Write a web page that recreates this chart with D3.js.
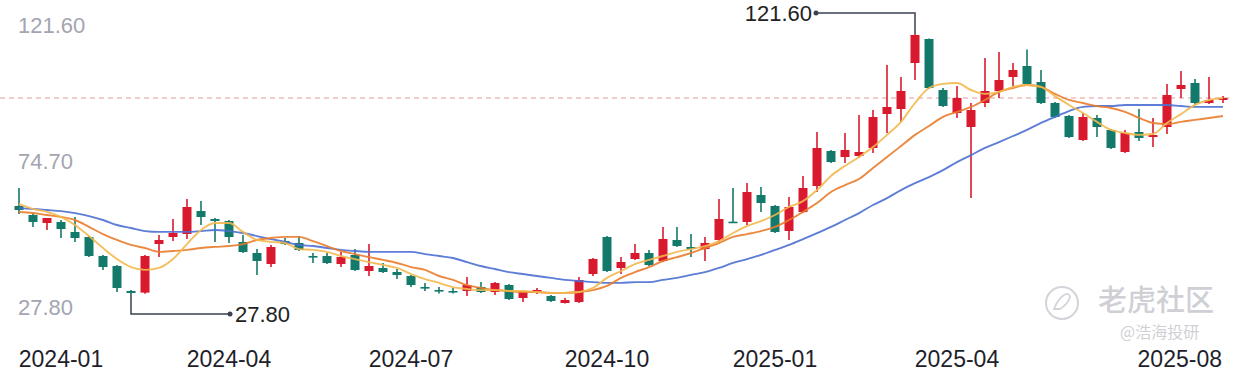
<!DOCTYPE html>
<html><head><meta charset="utf-8">
<script src="https://cdn.jsdelivr.net/npm/d3@7"></script>
<style>body{margin:0;background:#fff}svg{display:block}</style>
</head><body><svg id="c" width="1244" height="378"></svg>
<script>
const dates=["2023-12-15","2023-12-22","2023-12-29","2024-01-05","2024-01-12","2024-01-19","2024-01-26","2024-02-02","2024-02-08","2024-02-23",
"2024-03-01","2024-03-08","2024-03-15","2024-03-22","2024-03-29","2024-04-03","2024-04-12","2024-04-19","2024-04-26","2024-04-30",
"2024-05-10","2024-05-17","2024-05-24","2024-05-31","2024-06-07","2024-06-14","2024-06-21","2024-06-28","2024-07-05","2024-07-12",
"2024-07-19","2024-07-26","2024-08-02","2024-08-09","2024-08-16","2024-08-23","2024-08-30","2024-09-06","2024-09-13","2024-09-20",
"2024-09-27","2024-09-30","2024-10-11","2024-10-18","2024-10-25","2024-11-01","2024-11-08","2024-11-15","2024-11-22","2024-11-29",
"2024-12-06","2024-12-13","2024-12-20","2024-12-27","2025-01-03","2025-01-10","2025-01-17","2025-01-24","2025-01-27","2025-02-07",
"2025-02-14","2025-02-21","2025-02-28","2025-03-07","2025-03-14","2025-03-21","2025-03-28","2025-04-03","2025-04-11","2025-04-18",
"2025-04-25","2025-04-30","2025-05-09","2025-05-16","2025-05-23","2025-05-30","2025-06-06","2025-06-13","2025-06-20","2025-06-27",
"2025-07-04","2025-07-11","2025-07-18","2025-07-25","2025-08-01","2025-08-08","2025-08-15"];
const open=[59.55,56.30,53.41,53.78,50.17,48.36,41.51,37.90,28.88,28.30,
45.84,48.36,49.45,57.74,54.86,54.14,46.56,42.59,38.62,46.92,
46.20,41.51,41.51,38.62,41.87,36.10,37.18,35.74,34.29,30.32,
29.24,28.88,28.88,30.32,28.52,31.05,26.36,28.88,27.08,24.55,
24.91,35.02,48.36,37.18,40.43,42.59,39.71,47.28,44.76,44.03,
47.28,53.90,53.78,63.52,59.55,50.53,57.38,66.76,79.39,77.23,
77.59,80.47,92.74,94.54,111.14,119.80,101.40,93.10,88.05,96.71,
101.04,106.09,110.06,104.28,96.71,92.02,83.36,91.30,86.97,79.03,
86.24,84.44,88.05,101.76,103.92,96.71,97.79];
const high=[66.04,57.02,55.22,54.50,55.58,48.72,41.87,38.26,29.24,41.87,
49.09,54.86,62.07,61.35,55.22,54.50,49.09,44.03,45.48,48.00,
48.72,42.59,42.59,42.95,44.03,45.84,38.98,36.82,34.65,31.77,
30.32,29.96,33.93,32.13,32.13,31.41,28.88,29.96,27.44,26.36,
33.93,40.79,48.72,41.15,45.84,43.67,51.97,51.97,49.45,48.36,
62.07,66.04,67.85,66.40,59.91,62.79,70.37,86.24,79.75,85.88,
92.38,94.18,110.42,106.09,121.60,120.00,102.12,102.84,96.71,112.94,
115.10,111.14,115.99,108.61,97.07,92.38,93.10,92.38,87.33,86.97,
94.54,91.30,103.56,108.25,105.37,106.09,99.23];
const low=[56.66,51.97,50.89,48.00,46.56,41.15,36.46,28.52,27.80,27.90,
41.15,46.92,47.64,52.69,46.56,46.20,42.59,34.65,37.54,45.48,
43.31,38.98,38.62,37.54,36.10,34.29,35.38,33.21,30.32,28.88,
28.00,28.00,27.08,28.16,27.44,25.64,24.91,27.80,24.91,24.40,
24.55,34.29,35.74,35.02,40.07,37.90,39.34,44.76,41.15,39.71,
46.56,53.41,52.69,57.38,49.81,47.28,57.02,64.60,75.06,75.06,
76.87,78.67,85.88,89.85,105.00,101.76,95.26,91.30,62.43,95.26,
98.51,102.84,103.20,96.35,91.30,84.08,83.00,84.44,80.11,78.67,
83.00,80.83,85.52,98.51,95.99,96.35,96.71];
const close=[58.10,53.78,55.22,51.25,48.00,41.51,37.54,29.96,28.16,41.51,
47.28,49.81,59.19,55.58,54.14,48.36,42.95,39.71,44.76,45.84,
43.67,41.15,38.98,41.15,36.46,37.90,35.74,34.65,31.05,29.96,
28.88,28.52,31.05,28.52,31.77,26.00,28.52,29.24,25.28,25.64,
32.85,40.43,36.10,39.34,42.59,38.26,47.64,45.12,44.03,46.20,
54.86,53.60,64.60,60.63,50.17,59.19,66.04,80.47,75.42,79.75,
79.03,91.66,95.26,101.04,121.24,102.12,95.62,98.51,94.18,101.04,
105.00,108.61,103.56,96.71,91.66,84.44,91.66,88.05,80.47,85.88,
84.08,85.16,99.59,103.20,96.71,97.79,98.51];
const ma5=[60.3,58.5,57.4,55.6,52.7,48.7,44.4,40.4,37.5,36.5,
37.2,40.4,45.8,50.9,53.4,53.4,50.2,47.3,46.6,46.2,
44.0,43.7,43.0,41.5,40.4,39.3,38.3,37.2,35.0,33.2,
31.8,30.3,29.6,29.2,29.2,28.9,28.9,28.5,28.2,28.2,
28.5,30.0,33.6,36.1,38.6,40.1,41.5,43.0,44.0,45.1,
46.9,49.8,52.3,54.1,56.3,59.2,61.3,65.3,70.4,74.0,
77.2,80.8,85.2,89.9,96.7,102.1,103.6,103.9,101.4,100.0,
100.7,102.5,103.2,102.5,99.2,96.0,93.1,89.9,87.0,85.9,
85.2,85.5,89.5,92.7,96.0,97.8,98.5];
const ma10=[57.4,57.0,56.3,55.6,54.5,52.0,49.4,47.3,45.5,44.4,
43.0,43.3,43.7,44.4,44.8,45.1,45.8,47.3,48.0,48.4,
48.4,46.9,45.1,43.3,42.2,41.1,40.1,39.0,37.5,36.5,
34.3,32.9,31.0,30.0,29.2,28.9,28.5,28.5,28.2,28.2,
28.5,29.2,30.7,33.6,35.7,37.5,39.7,41.1,42.6,44.4,
46.2,48.4,49.4,50.5,52.0,54.5,57.4,60.6,64.6,67.1,
69.3,73.3,77.2,81.2,85.2,88.4,91.7,93.5,95.3,97.8,
100.7,102.1,103.2,102.5,100.0,97.8,96.7,95.6,94.9,93.5,
91.3,89.5,89.1,89.9,90.6,91.3,92.0];
const ma20=[58.8,58.5,58.1,57.7,57.0,55.9,54.5,52.7,51.6,50.5,
50.2,50.2,50.2,50.5,50.9,50.5,49.8,48.7,47.6,46.6,
45.5,45.1,44.4,43.7,43.3,43.0,43.0,43.0,43.0,42.2,
41.5,40.8,39.3,37.9,36.8,35.7,35.0,34.3,33.6,32.9,
32.5,32.1,31.8,31.8,32.1,32.1,32.9,33.6,34.7,35.7,
37.2,39.0,40.4,41.9,43.7,45.5,47.6,49.8,52.0,54.5,
57.0,59.9,62.4,65.3,67.8,70.0,72.5,75.4,77.9,80.5,
82.6,84.8,87.0,89.5,91.7,93.8,95.3,95.6,95.6,96.0,
96.0,96.0,96.0,95.6,95.3,95.3,95.3];
const axisValues=[121.60,74.70,27.80];
const tickLabels=["2024-01","2024-04","2024-07","2024-10","2025-01","2025-04","2025-08"];
const maxMark={index:64,value:121.60};
const minMark={index:8,value:27.80};

const W=1244,H=378;
const svg=d3.select("#c");
svg.append("rect").attr("width",W).attr("height",H).attr("fill","#ffffff");

const x=d3.scaleBand().domain(dates).range([12,1230]);
const xc=d=>x(d)+x.bandwidth()/2;
const y=d3.scaleLinear().domain([27.8,121.6]).range([294,34]);

const font="'Liberation Sans', Arial, sans-serif";

// y labels: top label sits above its level, bottom label below, middle centred
const [vMax,vMid,vMin]=axisValues;
const labY=v=>v===vMax?y(v)-9:(v===vMin?y(v)+13:y(v)-3);
svg.append("g").selectAll("text").data(axisValues).join("text")
  .attr("x",18).attr("y",d=>labY(d)).attr("dy","0.35em")
  .attr("font-family",font).attr("font-size",22).attr("fill","#a3a5b0")
  .text(d=>d.toFixed(2));

// last price dashed line
const lastClose=close[close.length-1];
svg.append("line").attr("x1",0).attr("x2",1232).attr("y1",y(lastClose)).attr("y2",y(lastClose))
  .attr("stroke","#e39a9a").attr("stroke-width",1.2).attr("stroke-dasharray","5,4");

// watermark
const wm=svg.append("g").attr("fill","#cfd0d6");
wm.append("circle").attr("cx",1062).attr("cy",303).attr("r",16).attr("fill","none").attr("stroke","#d3d4da").attr("stroke-width",2);
wm.append("path").attr("d","M1054,309 q4,-10 10,-14 q5,-3 6,2 q-2,7 -10,12 z").attr("fill","none").attr("stroke","#d3d4da").attr("stroke-width",1.8);
wm.append("text").attr("x",1098).attr("y",311).attr("font-family","'Noto Sans CJK SC'").attr("font-size",29).attr("font-weight",500).text("老虎社区");
wm.append("text").attr("x",1120).attr("y",338).attr("font-family","'Noto Sans CJK SC'").attr("font-size",16).text("@浩海投研");

// candles
const idx=d3.range(dates.length);
const up=i=>close[i]>=open[i];
const red="#d9192d", green="#137a6b";
const cg=svg.append("g");
cg.selectAll("line").data(idx).join("line")
  .attr("x1",i=>xc(dates[i])).attr("x2",i=>xc(dates[i]))
  .attr("y1",i=>y(high[i])).attr("y2",i=>y(low[i]))
  .attr("stroke",i=>up(i)?red:green).attr("stroke-width",1.6);
const bw=9;
cg.selectAll("rect").data(idx).join("rect")
  .attr("x",i=>xc(dates[i])-bw/2).attr("width",bw)
  .attr("y",i=>y(Math.max(open[i],close[i])))
  .attr("height",i=>Math.max(1.6,Math.abs(y(open[i])-y(close[i]))))
  .attr("fill",i=>up(i)?red:green);

// moving averages
const mk=arr=>d3.line().x((d,i)=>xc(dates[i])).y(d=>y(d)).curve(d3.curveMonotoneX)(arr);
[[ma20,"#4b6fd1"],[ma10,"#e97c2c"],[ma5,"#f3b84e"]].forEach(([a,c])=>{
  svg.append("path").attr("d",mk(a)).attr("fill","none").attr("stroke",c).attr("stroke-width",1.9).attr("stroke-opacity",0.9);
});

// x labels
const tg=svg.append("g");
tickLabels.forEach(t=>{
  const i=dates.findIndex(d=>d.startsWith(t));
  const tx=tg.append("text").attr("y",359).attr("dy","0.35em").attr("font-family",font)
    .attr("font-size",23).attr("fill","#1e1f2b").text(t);
  const w=tx.node().getComputedTextLength();
  let left=xc(dates[i])-w/2;
  left=Math.max(17,Math.min(1222-w,left));
  tx.attr("x",left);
});

// annotations
const ann=svg.append("g").attr("font-family",font);
const ac="#3a4250";
{
  const px=xc(dates[maxMark.index]), py=y(maxMark.value), ly=py-21, lx=px-99;
  ann.append("path").attr("d",`M${px},${py}V${ly}H${lx}`).attr("fill","none").attr("stroke",ac).attr("stroke-width",1.5);
  ann.append("circle").attr("cx",lx).attr("cy",ly).attr("r",2.5).attr("fill",ac);
  ann.append("text").attr("x",lx-4).attr("y",ly).attr("dy","0.35em").attr("text-anchor","end")
    .attr("font-size",22).attr("fill","#222").text(maxMark.value.toFixed(2));
}
{
  const px=xc(dates[minMark.index]), py=y(minMark.value), ly=py+20, lx=px+99;
  ann.append("path").attr("d",`M${px},${py}V${ly}H${lx}`).attr("fill","none").attr("stroke",ac).attr("stroke-width",1.5);
  ann.append("circle").attr("cx",lx).attr("cy",ly).attr("r",2.5).attr("fill",ac);
  ann.append("text").attr("x",lx+5).attr("y",ly).attr("dy","0.35em").attr("text-anchor","start")
    .attr("font-size",22).attr("fill","#222").text(minMark.value.toFixed(2));
}
</script></body></html>
